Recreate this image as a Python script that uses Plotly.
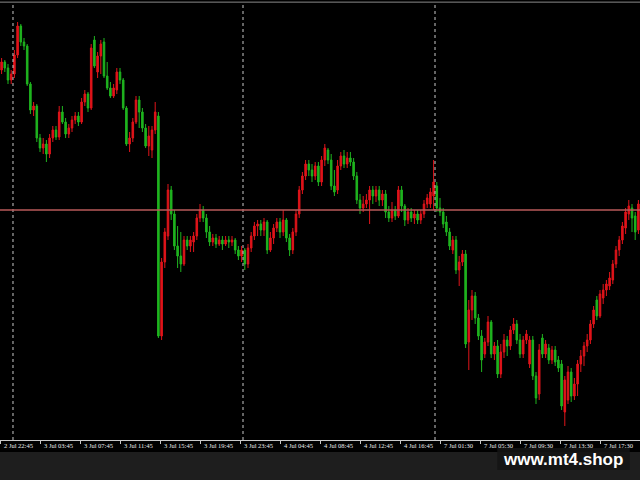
import plotly.graph_objects as go

opens = [370,378,372,360,366,385,414,398,394,356,330,334,302,292,296,286,302,310,303,328,
         318,306,312,320,324,318,338,346,332,400,368,384,398,364,352,344,350,368,360,332,
         296,302,318,340,328,312,294,290,310,324,104,178,204,250,226,194,184,176,200,194,
         198,204,222,230,222,208,198,202,196,200,196,200,198,200,190,184,190,176,192,204,
         214,216,210,218,190,202,212,218,208,220,202,190,208,226,250,264,276,270,264,274,
         258,280,290,280,254,250,274,284,276,282,278,264,240,232,236,240,250,244,250,240,
         246,228,222,230,224,250,234,220,228,222,226,220,226,236,236,244,254,232,228,218,
         208,190,200,170,178,186,98,130,144,122,104,86,98,118,86,94,66,88,100,94,
         110,116,100,86,100,76,100,64,46,102,86,92,80,90,80,76,28,40,68,44,
         56,76,84,94,100,116,140,124,142,150,154,160,176,190,200,212,226,232,224,210]
highs = [382,380,376,370,390,418,416,402,396,358,338,336,306,302,300,306,314,314,334,334,
         322,316,324,328,328,342,350,348,396,404,388,400,402,378,358,356,372,372,362,334,
         308,322,344,344,332,316,314,314,338,328,182,212,256,254,230,214,208,204,204,204,
         208,226,236,234,226,214,206,206,204,204,204,204,204,202,194,194,192,196,208,218,
         220,220,222,220,208,216,222,222,230,222,206,212,230,254,268,280,280,276,278,278,
         284,296,292,286,270,280,288,290,288,288,282,268,246,244,246,254,254,254,254,250,
         250,234,238,234,254,254,236,232,232,230,230,230,240,246,252,280,258,242,232,224,
         212,204,204,184,190,190,140,150,148,126,110,102,124,120,98,100,96,106,104,114,
         122,120,106,104,110,104,104,68,96,106,100,96,94,94,84,80,64,74,72,62,
         80,90,98,106,120,134,144,150,156,160,168,180,194,204,218,232,240,236,228,240]
lows = [366,368,356,356,362,382,394,390,354,326,324,298,288,286,278,282,298,300,300,316,
        302,302,308,316,314,316,334,328,330,372,362,366,362,350,342,342,346,356,330,294,
        288,298,316,312,308,292,284,282,306,102,100,172,200,220,190,172,168,174,190,188,
        188,200,218,218,202,194,194,192,194,190,194,192,194,186,180,178,170,172,188,200,
        204,204,204,186,188,196,208,202,204,198,184,186,204,222,246,260,264,258,260,254,
        254,274,276,250,244,246,270,272,272,274,260,236,226,228,232,216,236,238,234,234,
        222,218,218,220,222,228,214,216,218,216,216,216,222,232,232,230,228,224,212,204,
        190,186,166,154,174,92,70,120,116,100,68,82,94,82,80,62,62,82,84,90,
        106,96,82,82,96,72,60,36,40,82,82,76,76,74,68,30,14,36,38,40,
        44,68,74,88,96,112,120,122,136,144,150,156,172,184,196,206,220,208,200,206]
closes = [378,372,360,366,385,414,398,394,356,330,334,302,292,296,286,302,310,303,328,318,
          306,312,320,324,318,338,346,332,392,374,384,396,364,352,344,352,368,360,332,296,
          302,318,340,328,312,294,304,310,328,104,178,208,250,226,194,184,176,200,194,200,
          204,222,230,222,208,198,202,196,200,196,200,198,200,190,184,190,176,192,204,214,
          216,210,218,190,202,212,218,208,220,202,190,208,226,250,264,276,270,264,274,258,
          280,292,280,254,248,274,284,276,282,278,264,240,232,236,240,250,244,250,240,246,
          228,222,230,224,250,234,220,228,222,226,220,226,236,242,248,258,232,228,216,208,
          194,200,170,178,186,96,130,144,122,104,80,98,118,86,94,66,88,100,94,110,
          116,100,86,100,106,100,64,42,90,86,96,80,90,78,72,34,60,68,44,56,
          76,84,94,100,116,130,124,146,150,156,162,176,190,200,214,228,234,222,208,236]

bid_price = 230
day_breaks = [3.56, 75.44, 135.44]
tick_pos = [-0.2, 12.3, 24.8, 37.3, 49.8, 62.3, 74.8, 87.3, 99.8, 112.3, 124.8,
            137.3, 149.8, 162.3, 174.8, 187.3]
tick_text = ["2 Jul 22:45", "3 Jul 03:45", "3 Jul 07:45", "3 Jul 11:45", "3 Jul 15:45",
             "3 Jul 19:45", "3 Jul 23:45", "4 Jul 04:45", "4 Jul 08:45", "4 Jul 12:45",
             "4 Jul 16:45", "7 Jul 01:30", "7 Jul 05:30", "7 Jul 09:30", "7 Jul 13:30",
             "7 Jul 17:30"]
bars = list(range(len(closes)))

fig = go.Figure(go.Candlestick(
    x=bars, open=opens, high=highs, low=lows, close=closes,
    increasing=dict(line=dict(color="#e0141a", width=1), fillcolor="#e0141a"),
    decreasing=dict(line=dict(color="#1fb41f", width=1), fillcolor="#1fb41f"),
    whiskerwidth=0, hoverinfo="skip",
))

shapes = []
for d in day_breaks:
    shapes.append(dict(type="line", xref="x", yref="paper", x0=d, x1=d, y0=0, y1=1,
                       line=dict(color="#c8c8c8", width=1, dash="dot")))
shapes.append(dict(type="line", xref="paper", yref="y", x0=0, x1=1, y0=bid_price, y1=bid_price,
                   line=dict(color="#b85a5a", width=1.5)))
shapes.append(dict(type="line", xref="paper", yref="paper", x0=0, x1=1, y0=1.002, y1=1.002,
                   line=dict(color="#8a8a8a", width=1)))
shapes.append(dict(type="rect", xref="paper", yref="paper", x0=0, x1=1, y0=-0.1, y1=-0.0275,
                   fillcolor="#1e1e1e", line=dict(width=0), layer="below"))

annotations = []
for tp, tt in zip(tick_pos, tick_text):
    annotations.append(dict(text=tt, xref="x", yref="paper", x=tp, y=-0.0137,
                            xanchor="left", yanchor="middle", xshift=1, showarrow=False,
                            font=dict(family="Liberation Sans Narrow", size=6.5, color="#ececec")))

shapes.append(dict(type="rect", xref="paper", yref="paper", x0=0.777, x1=0.984,
                   y0=-0.0686, y1=-0.0185, fillcolor="rgba(20,20,20,0.85)",
                   line=dict(width=0), layer="above"))
annotations.append(dict(text="<b>www.mt4.shop</b>", xref="paper", yref="paper",
                        x=0.880, y=-0.0440, showarrow=False, xanchor="center", yanchor="middle",
                        font=dict(family="Liberation Sans", size=17, color="#ffffff")))

fig.update_layout(
    width=640, height=480,
    margin=dict(l=0, r=0, t=3, b=40, autoexpand=False),
    paper_bgcolor="#000000", plot_bgcolor="#000000",
    showlegend=False,
    shapes=shapes,
    annotations=annotations,
    xaxis=dict(range=[-0.5, len(closes) - 0.5], rangeslider=dict(visible=False),
               showgrid=False, zeroline=False, showline=True, linecolor="#c8c8c8",
               linewidth=1, ticks="outside", ticklen=3, tickcolor="#c8c8c8",
               tickvals=tick_pos, showticklabels=False, automargin=False),
    yaxis=dict(range=[0, 437], showgrid=False, zeroline=False, showticklabels=False,
               showline=False, fixedrange=True, automargin=False),
)

fig.write_html("out.html", config={"displayModeBar": False},
               post_script="document.body.style.margin='0';document.body.style.background='#000';")
